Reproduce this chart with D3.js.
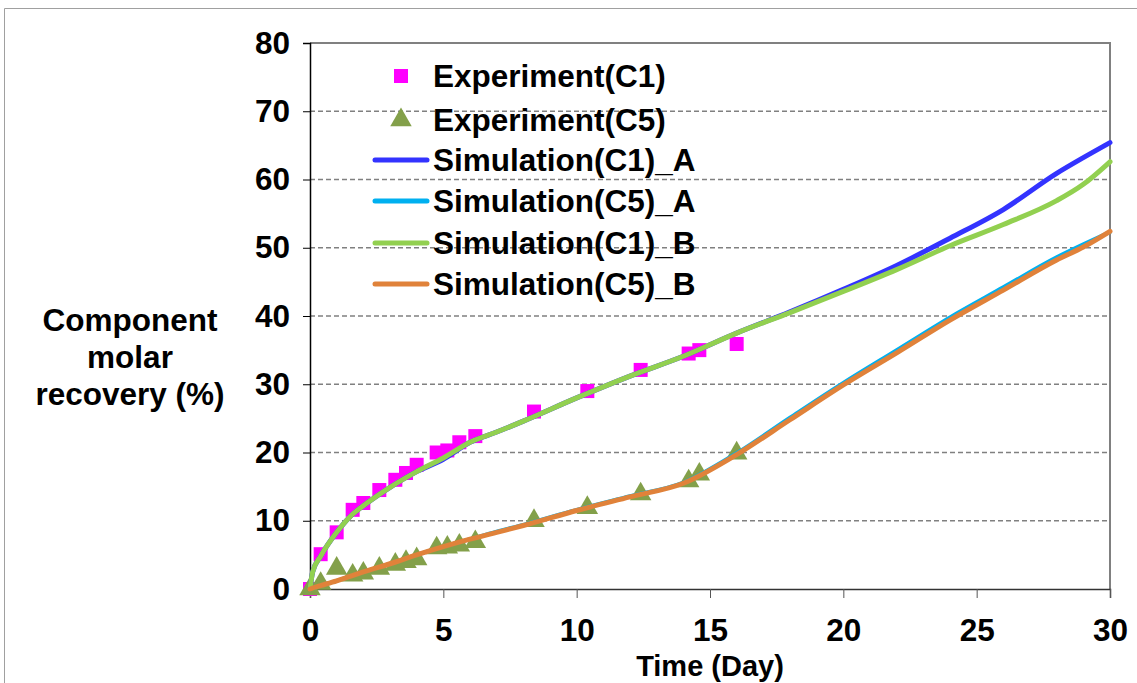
<!DOCTYPE html>
<html><head><meta charset="utf-8">
<script src="https://cdn.jsdelivr.net/npm/d3@7"></script>
<style>body{margin:0;background:#fff}svg{display:block}text{font-family:"Liberation Sans",Arial,sans-serif;font-weight:bold;fill:#000}</style>
</head><body><svg id="c" width="1137" height="683"></svg>
<script>
// Experimental data
const expT = [0,0.4,1.0,1.6,2.0,2.6,3.2,3.6,4.0,4.75,5.15,5.6,6.2,8.4,10.4,12.4,14.2,14.6,16.0];
const expC1 = [0,5.1,8.3,11.6,12.6,14.5,16.0,17.0,18.2,20.0,20.3,21.5,22.4,26.0,29.0,32.1,34.5,35.0,35.9];
const expC5 = [0,0.8,3.0,2.0,2.3,3.0,3.6,4.0,4.4,6.0,6.1,6.4,6.9,10.0,11.9,13.9,15.8,16.8,19.9];
// Simulation curves
const simT = [0,0.1,0.4,1,1.5,2,3,4,5,6,7,8,10,12,14,16,18,20,22,24,26,28,29,30];
const simC1A = [0,2.5,4.8,8.3,10.6,12.2,14.9,17.2,19.0,21.5,23.0,24.6,28.0,31.2,34.1,37.5,40.6,43.9,47.4,51.4,55.6,60.9,63.2,65.4];
const simC1B = [0,2.5,4.8,8.3,10.6,12.2,14.9,17.2,19.2,21.5,23.0,24.6,28.0,31.2,34.1,37.5,40.5,43.6,46.8,50.3,53.4,56.9,59.3,62.6];
const simC5A = [0,0.15,0.5,1.2,1.85,2.5,3.7,5.0,6.2,7.3,8.4,9.4,11.6,13.6,15.6,19.9,25.1,30.2,35.0,39.8,44.2,48.6,50.5,52.3];
const simC5B = [0,0.15,0.5,1.2,1.85,2.5,3.7,5.0,6.2,7.3,8.3,9.3,11.5,13.5,15.5,19.7,24.8,29.9,34.6,39.4,43.8,48.2,50.1,52.4];
const xTicks = [0,5,10,15,20,25,30];
const yTicks = [0,10,20,30,40,50,60,70,80];
const legendLabels = ["Experiment(C1)","Experiment(C5)","Simulation(C1)_A","Simulation(C5)_A","Simulation(C1)_B","Simulation(C5)_B"];
const colors = {c1A:"#3333ff", c5A:"#00b0f0", c1B:"#92d050", c5B:"#e0823a", exp1:"#ff00ff", exp5:"#83a04a"};

const svg = d3.select("#c");
const x = d3.scaleLinear().domain([0,30]).range([310,1110]);
const y = d3.scaleLinear().domain([0,80]).range([589,43]);
const FS = "31.5px";

// outer border
svg.append("path").attr("d","M4.5,683 V8.5 H1137").attr("fill","none").attr("stroke","#a0a0a0").attr("stroke-width",1);

// gridlines
svg.append("g").selectAll("line").data(yTicks.filter(d=>d>0&&d<80)).join("line")
  .attr("x1",x(0)).attr("x2",x(30)).attr("y1",d=>y(d)).attr("y2",d=>y(d))
  .attr("stroke","#808080").attr("stroke-width",1.5).attr("stroke-dasharray","5,3");

// plot border top/right
svg.append("path").attr("d",`M${x(0)},${y(80)} H${x(30)} V${y(0)}`).attr("fill","none").attr("stroke","#808080").attr("stroke-width",2);

// axes
const yAxis = d3.axisLeft(y).tickValues(yTicks).tickSize(7).tickPadding(13);
const gy = svg.append("g").attr("transform",`translate(${x(0)},0)`).call(yAxis);
gy.select(".domain").attr("stroke","#000").attr("stroke-width",1.5);
gy.selectAll(".tick line").attr("stroke","#000");
gy.selectAll("text").style("font-size",FS).style("font-family","Liberation Sans, Arial, sans-serif").style("font-weight","bold").attr("fill","#000");

const xAxis = d3.axisBottom(x).tickValues(xTicks).tickSize(9).tickPadding(21);
const gx = svg.append("g").attr("transform",`translate(0,${y(0)})`).call(xAxis);
gx.select(".domain").attr("stroke","#333").attr("stroke-width",1.5);
gx.selectAll(".tick line").attr("stroke","#555");
gx.selectAll("text").style("font-size",FS).style("font-family","Liberation Sans, Arial, sans-serif").style("font-weight","bold").attr("fill","#000");

// axis titles
svg.append("text").attr("x",710).attr("y",676).attr("text-anchor","middle").style("font-size","29px").text("Time (Day)");
const yt = svg.append("text").attr("text-anchor","middle").style("font-size",FS);
["Component","molar","recovery (%)"].forEach((s,i)=>yt.append("tspan").attr("x",130).attr("y",331+i*37).text(s));

// experiment markers
const exp1 = expT.map((t,i)=>({t,v:expC1[i]}));
const exp5 = expT.map((t,i)=>({t,v:expC5[i]}));
svg.append("g").selectAll("rect").data(exp1).join("rect")
  .attr("x",d=>x(d.t)-7).attr("y",d=>y(d.v)-7).attr("width",14).attr("height",14).attr("fill",colors.exp1);
const tri = d3.symbol().type(d3.symbolTriangle).size(200);
svg.append("g").selectAll("path").data(exp5).join("path")
  .attr("d",tri).attr("transform",d=>`translate(${x(d.t)},${y(d.v)})`).attr("fill",colors.exp5);

// simulation lines
const line = d3.line().x(d=>x(d.t)).y(d=>y(d.v)).curve(d3.curveMonotoneX);
const mk = arr => simT.map((t,i)=>({t,v:arr[i]}));
[[simC1A,colors.c1A,5],[simC5A,colors.c5A,4],[simC1B,colors.c1B,5],[simC5B,colors.c5B,5]].forEach(([a,c,w])=>{
  svg.append("path").datum(mk(a)).attr("d",line).attr("fill","none").attr("stroke",c).attr("stroke-width",w).attr("stroke-linecap","round").attr("stroke-linejoin","round");
});

// legend
const ly = [76,120,160,201,243,284];
const lg = svg.append("g");
lg.append("rect").attr("x",394).attr("y",ly[0]-7).attr("width",14).attr("height",14).attr("fill",colors.exp1);
lg.append("path").attr("d",tri).attr("transform",`translate(401,${ly[1]})`).attr("fill",colors.exp5);
[colors.c1A,colors.c5A,colors.c1B,colors.c5B].forEach((c,i)=>{
  lg.append("line").attr("x1",375).attr("x2",427).attr("y1",ly[i+2]).attr("y2",ly[i+2]).attr("stroke",c).attr("stroke-width",5).attr("stroke-linecap","round");
});
legendLabels.forEach((s,i)=>lg.append("text").attr("x",433).attr("y",ly[i]+11).style("font-size",FS).text(s));
</script></body></html>
